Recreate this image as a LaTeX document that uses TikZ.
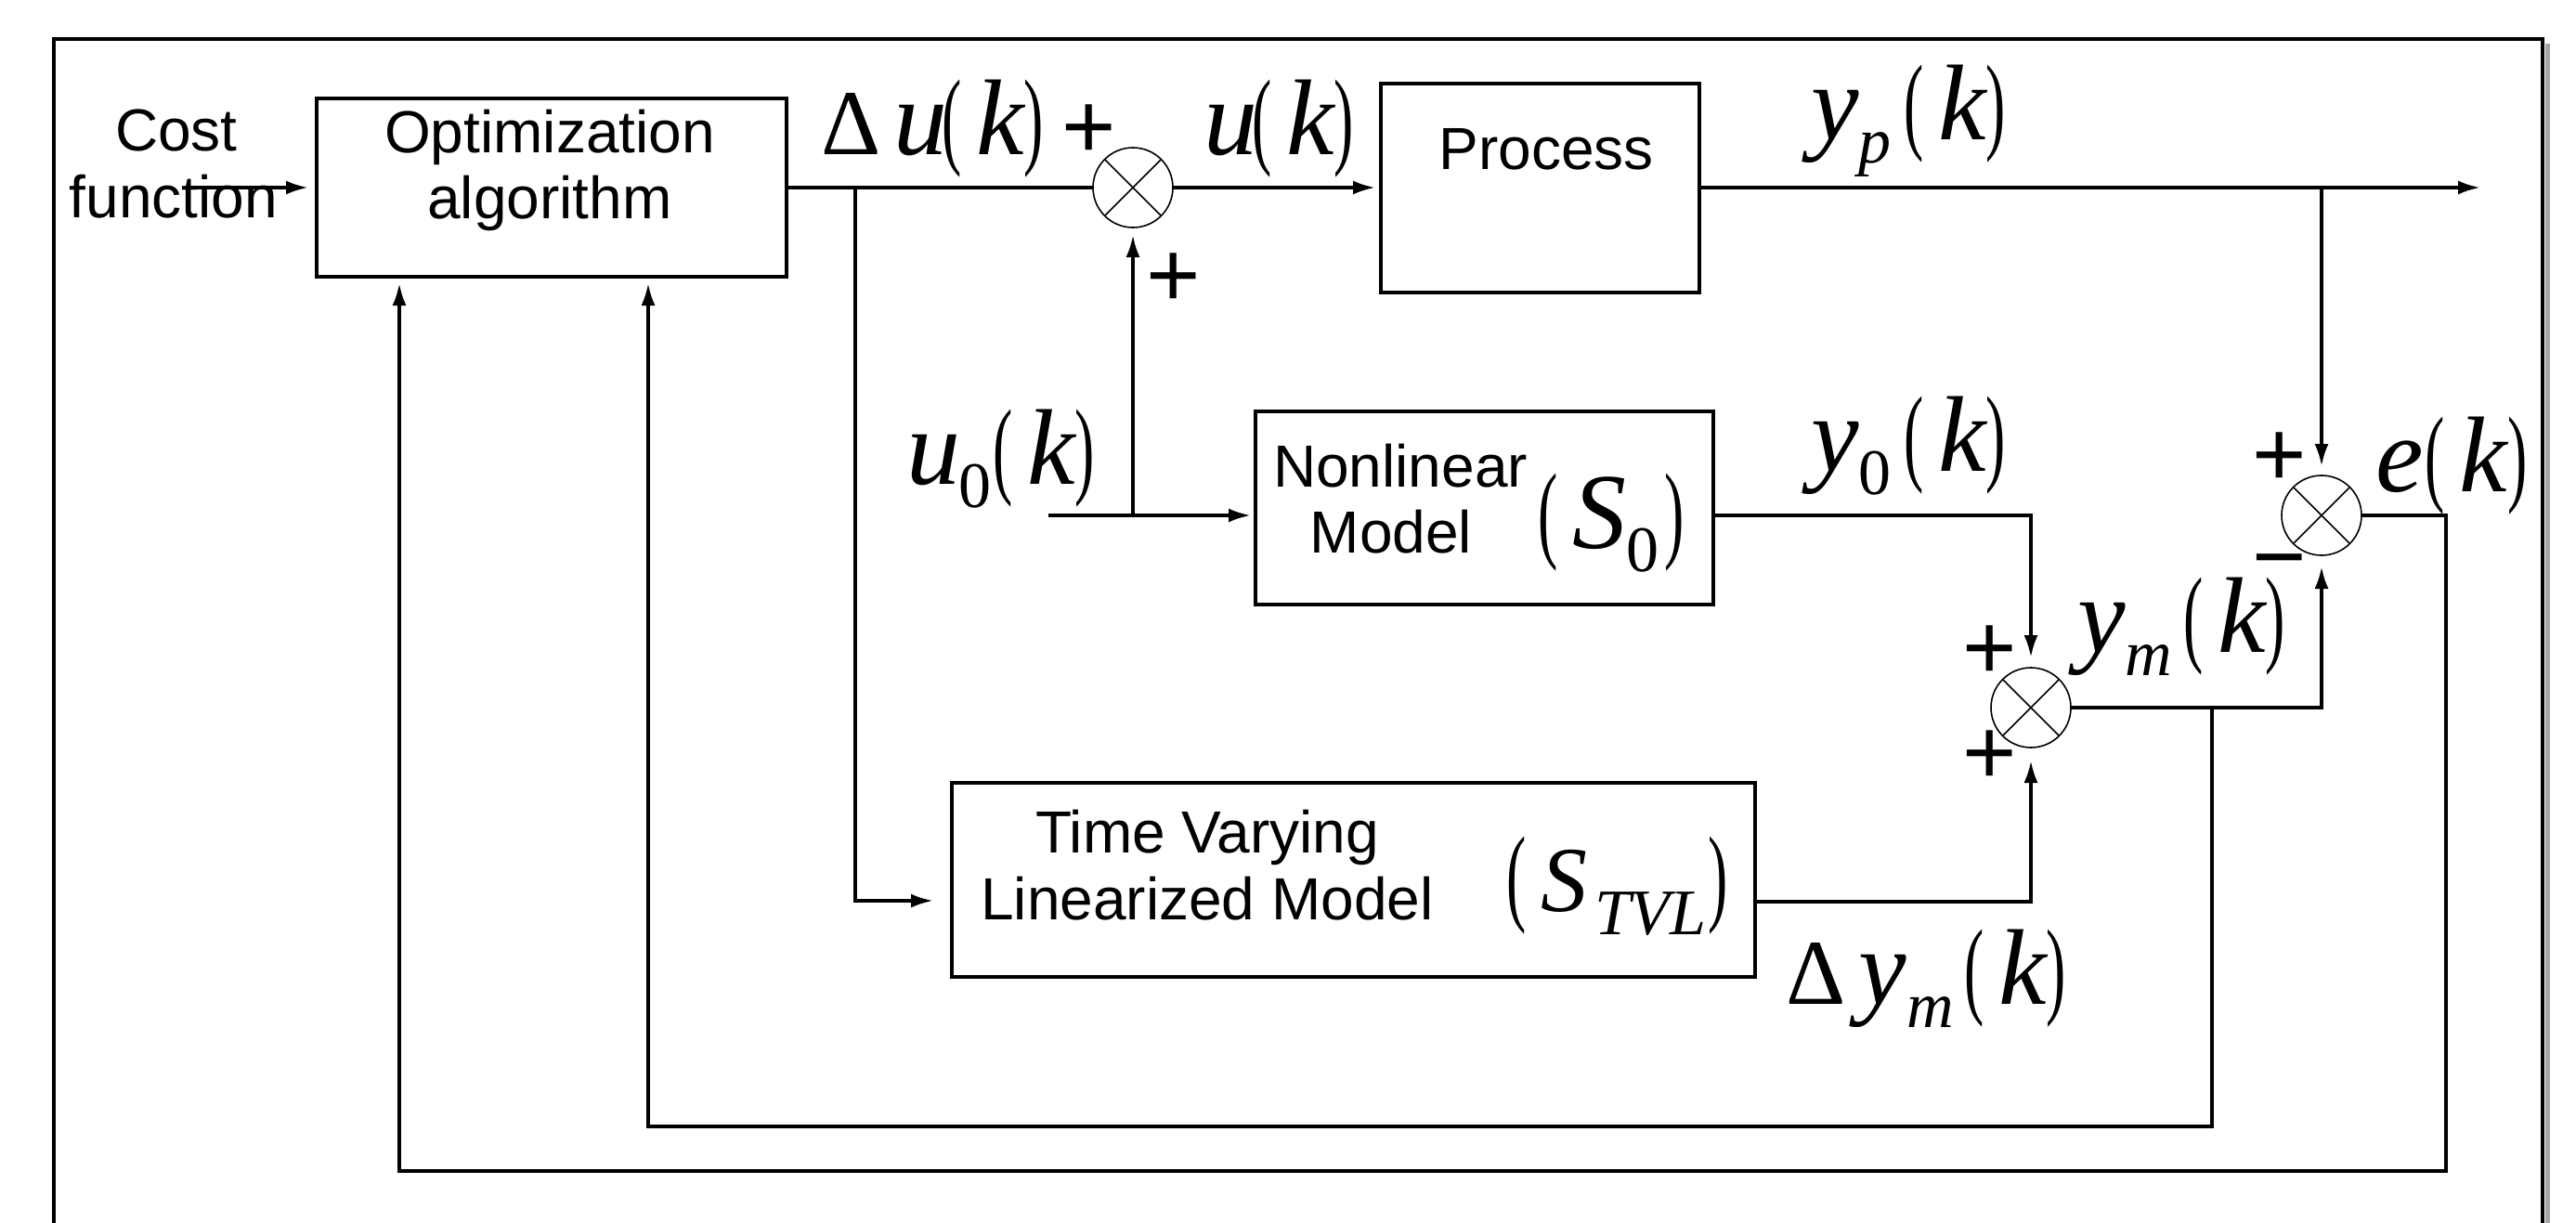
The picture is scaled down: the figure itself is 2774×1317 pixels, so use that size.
\documentclass[tikz,border=0pt]{standalone}
\usepackage{fontspec}
\setmainfont{Liberation Sans}
\newfontfamily\mserif{Liberation Serif}
\usetikzlibrary{arrows.meta}
\newcommand{\mbigsz}{\fontsize{58pt}{60pt}\selectfont}
\newcommand{\msmsz}{\fontsize{35pt}{36pt}\selectfont}
\newcommand{\mvI}[1]{{\mserif\mbigsz\itshape #1}}
\newcommand{\mvR}[1]{{\mserif\mbigsz #1}}
\newcommand{\mvL}{{\mserif\mbigsz\makebox[19.3pt][l]{\kern1pt\scalebox{0.55}[1]{(}}}}
\newcommand{\mvRp}{{\mserif\mbigsz\makebox[19.3pt][l]{\scalebox{0.55}[1]{)}}}}
\newcommand{\mvS}[1]{\raisebox{-12.5pt}{\mserif\msmsz\itshape #1}}
\newcommand{\mvSr}[1]{\raisebox{-12.5pt}{\mserif\msmsz #1}}
\newcommand{\mvD}{{\mserif\fontsize{50pt}{52pt}\selectfont Δ}}
\begin{document}
\begin{tikzpicture}[x=0.5pt,y=-0.5pt,
  box/.style={draw, line width=2pt, inner sep=0pt, outer sep=0pt},
  wire/.style={line width=1.8pt},
  arr/.style={wire, -{Latex[length=12pt,width=7.5pt]}},
  sumc/.style={circle, draw, line width=0.8pt, minimum size=43pt, inner sep=0pt, outer sep=0pt},
  lbl/.style={inner sep=0pt, anchor=base, font=\fontsize{32pt}{36pt}\selectfont},
  mlbl/.style={inner sep=0pt, anchor=base west},
  sgn/.style={inner sep=0pt, font=\fontsize{50pt}{50pt}\selectfont}]
\useasboundingbox (0,0) rectangle (2774,1317);
\clip (0,0) rectangle (2774,1317);
% outer frame
\draw[gray!70, line width=2.5pt] (2743,47) -- (2743,1400);
\draw[line width=1.75pt] (58,42) rectangle (2738,1400);
% blocks
\node[box, minimum width=253pt, minimum height=96pt] (opt) at (594,202) {};
\node[box, minimum width=171.5pt, minimum height=112.5pt] (proc) at (1658.5,202) {};
\node[box, minimum width=246.5pt, minimum height=104pt] (nl) at (1598.5,547) {};
\node[box, minimum width=432.5pt, minimum height=104.5pt] (tvl) at (1457.5,947.5) {};
% summing junctions
\node[sumc] (s1) at (1220,202) {};
\node[sumc] (se) at (2500,555) {};
\node[sumc] (sm) at (2187,762) {};
\foreach \c in {s1,se,sm}{
  \draw[line width=0.8pt] (\c.north west) -- (\c.south east);
  \draw[line width=0.8pt] (\c.north east) -- (\c.south west);
}
% block texts
\node[lbl] (tcost) at (190,162) {Cost};
\node[lbl] (tfun) at (187,234) {function};
\node[lbl] (topt1) at (592,164) {Optimization};
\node[lbl] (topt2) at (592,235) {algorithm};
\node[lbl] (tproc) at (1665,182) {Process};
\node[lbl] (tnl1) at (1508,524) {Nonlinear};
\node[lbl] (tnl2) at (1498,595) {Model};
\node[lbl] (ttv1) at (1300,918) {Time Varying};
\node[lbl] (ttv2) at (1300,990) {Linearized Model};
% math labels
\node[mlbl] (ldu) at (884,166) {\mvD\kern7pt\mvI{u}\kern-4pt\mvL\mvI{k}\mvRp};
\node[mlbl] (lu) at (1296,166) {\mvI{u}\kern-4pt\mvL\mvI{k}\mvRp};
\node[mlbl] (lyp) at (1950,150) {\mvI{y}\mvS{p}\kern6pt\mvL\mvI{k}\mvRp};
\node[mlbl] (lu0) at (976,521) {\mvI{u}\kern-1pt\mvSr{0}\mvL\mvI{k}\mvRp};
\node[mlbl] (ly0) at (1950,507) {\mvI{y}\mvSr{0}\kern6pt\mvL\mvI{k}\mvRp};
\node[mlbl] (lym) at (2237,702) {\mvI{y}\mvS{m}\kern5pt\mvL\mvI{k}\mvRp};
\node[mlbl] (le) at (2558,529) {\mvI{e}\mvL\mvI{k}\mvRp};
\node[mlbl] (ldym) at (1923,1081) {\mvD\kern7pt\mvI{y}\mvS{m}\kern5pt\mvL\mvI{k}\mvRp};
\node[mlbl] (ls0) at (1654,590) {\mvL\mvI{S}\mvSr{0}\kern3pt\mvRp};
\node[mlbl] (lstvl) at (1620,981) {\mvL{\mserif\fontsize{50pt}{52pt}\selectfont\itshape S}\kern4pt\mvS{TVL}\kern1pt\mvRp};
% signs
\node[sgn] (p1) at (1173,142) {+};
\node[sgn] (p2) at (1264,302) {+};
\node[sgn] (p3) at (2455,495) {+};
\node[sgn, text height=2pt, text depth=2pt] (m1) at (2455,604) {\raisebox{-14.5pt}{−}};
\node[sgn] (p4) at (2143,703) {+};
\node[sgn] (p5) at (2143,816) {+};
% coordinates
\coordinate (cf) at (205,202);
\coordinate (yout) at (2671,202);
\coordinate (u0in) at (1129,555);
\coordinate (du) at (921,202);
\coordinate (br1) at (2382,762);
\coordinate (fbc1) at (698,1213);
\coordinate (ecorner) at (2634,1261);
\coordinate (fbc2) at (430,1261);
% connectors
\draw[arr, shorten >=4.5pt] (cf) -- (opt.west);
\draw[wire] (opt.east) -- (s1.west);
\draw[arr, shorten >=3pt] (s1.east) -- (proc.west);
\draw[arr] (proc.east) -- (yout);
\draw[arr, shorten >=5pt] (se |- proc.east) -- (se.north);
\draw[arr, shorten >=2.5pt] (u0in) -- (u0in -| nl.west);
\draw[arr, shorten >=4pt] (s1 |- u0in) -- (s1.south);
\draw[arr, shorten >=10pt] (du) |- ([yshift=-11.25pt]tvl.west);
\draw[arr, shorten >=5.5pt] ([yshift=-4pt]nl.east) -| (sm.north);
\draw[arr, shorten >=7pt] ([yshift=-11.75pt]tvl.east) -| (sm.south);
\draw[arr, shorten >=6pt] (sm.east) -| (se.south);
\draw[arr, shorten >=3.5pt] (br1) |- (fbc1) -- ([xshift=52pt]opt.south);
\draw[arr, shorten >=3.5pt] (se.east) -| (ecorner) -- (fbc2) -- ([xshift=-82pt]opt.south);
\end{tikzpicture}
\end{document}
